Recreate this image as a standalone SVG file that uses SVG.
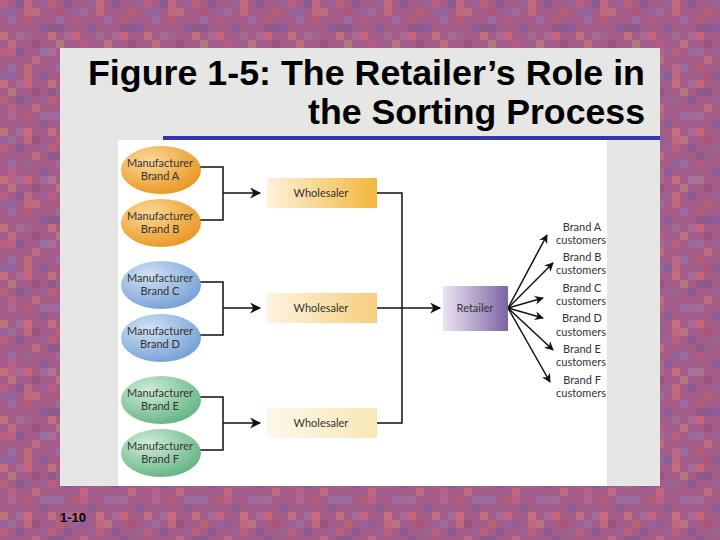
<svg xmlns="http://www.w3.org/2000/svg" width="720" height="540" viewBox="0 0 720 540">
<defs>
<style>
.lbl{font-family:Lato,"Open Sans","Liberation Sans",sans-serif;font-size:11px;fill:#333;text-anchor:middle}
.cust{font-family:Lato,"Open Sans","Liberation Sans",sans-serif;font-size:11px;fill:#333;text-anchor:middle}
.ttl{font-family:"Liberation Sans",Arial,sans-serif;font-size:35px;font-weight:bold;fill:#000}
.ln{fill:none;stroke:#111;stroke-width:1.5}
</style>
<pattern id="mosaic" width="48" height="48" patternUnits="userSpaceOnUse">
<rect width="48" height="48" fill="#a45c88"/>
<rect x="0" y="0" width="8" height="8" fill="#b8607e"/>
<rect x="16" y="0" width="8" height="8" fill="#8e5a92"/>
<rect x="32" y="8" width="8" height="8" fill="#c06a82"/>
<rect x="8" y="16" width="8" height="8" fill="#9a6aa0"/>
<rect x="24" y="16" width="8" height="8" fill="#b25a7a"/>
<rect x="40" y="24" width="8" height="8" fill="#8c5c96"/>
<rect x="0" y="32" width="8" height="8" fill="#c2707e"/>
<rect x="16" y="32" width="8" height="8" fill="#a86a9a"/>
<rect x="32" y="40" width="8" height="8" fill="#9c5282"/>
<rect x="8" y="40" width="8" height="8" fill="#b6747e"/>
<rect x="40" y="0" width="8" height="8" fill="#9a6292"/>
<rect x="24" y="32" width="8" height="8" fill="#c66478"/>
</pattern>
<pattern id="mosaic2" width="72" height="64" patternUnits="userSpaceOnUse">
<rect x="0" y="8" width="16" height="8" fill="#8a6aa6"/>
<rect x="24" y="0" width="8" height="16" fill="#d0707a"/>
<rect x="48" y="24" width="16" height="8" fill="#7e5c90"/>
<rect x="8" y="40" width="8" height="16" fill="#c46486"/>
<rect x="40" y="48" width="16" height="8" fill="#9c78a8"/>
<rect x="56" y="8" width="8" height="8" fill="#b45470"/>
<rect x="24" y="32" width="8" height="8" fill="#8868a0"/>
</pattern>
<radialGradient id="gOr" cx="0.35" cy="0.3" r="0.8">
<stop offset="0" stop-color="#fbd898"/><stop offset="1" stop-color="#e8921a"/>
</radialGradient>
<radialGradient id="gBl" cx="0.35" cy="0.3" r="0.8">
<stop offset="0" stop-color="#d2e2f4"/><stop offset="1" stop-color="#6e9cd2"/>
</radialGradient>
<radialGradient id="gGr" cx="0.35" cy="0.3" r="0.8">
<stop offset="0" stop-color="#d0ecd6"/><stop offset="1" stop-color="#5cb07e"/>
</radialGradient>
<linearGradient id="gW1" x1="0" x2="1" y1="0" y2="0">
<stop offset="0" stop-color="#fdf2dc"/><stop offset="1" stop-color="#f4b63c"/>
</linearGradient>
<linearGradient id="gW2" x1="0" x2="1" y1="0" y2="0">
<stop offset="0" stop-color="#fdf4e2"/><stop offset="1" stop-color="#f6ce7c"/>
</linearGradient>
<linearGradient id="gW3" x1="0" x2="1" y1="0" y2="0">
<stop offset="0" stop-color="#fdf8ea"/><stop offset="1" stop-color="#f8e6b4"/>
</linearGradient>
<linearGradient id="gRt" x1="0" x2="1" y1="0" y2="0">
<stop offset="0" stop-color="#ebe4f2"/><stop offset="1" stop-color="#7c64a6"/>
</linearGradient>
<marker id="arr" viewBox="0 0 10 10" refX="9" refY="5" markerWidth="9" markerHeight="9" markerUnits="userSpaceOnUse" orient="auto">
<path d="M0,0 L10,5 L0,10 L3,5 Z" fill="#111"/>
</marker>
<marker id="arr2" viewBox="0 0 10 10" refX="9" refY="5" markerWidth="13" markerHeight="11" markerUnits="userSpaceOnUse" orient="auto">
<path d="M0,0 L10,5 L0,10 L3,5 Z" fill="#111"/>
</marker>
</defs>

<rect width="720" height="540" fill="url(#mosaic)"/>
<rect width="720" height="540" fill="url(#mosaic2)" opacity="0.6"/>
<rect x="60" y="48" width="600" height="438" fill="#e6e6e4"/>
<rect x="118" y="140" width="489" height="346" fill="#ffffff"/>

<g id="title">
<text class="ttl" x="88" y="85" textLength="557" lengthAdjust="spacingAndGlyphs">Figure 1-5: The Retailer’s Role in</text>
<text class="ttl" x="308" y="124" textLength="337" lengthAdjust="spacingAndGlyphs">the Sorting Process</text>
<rect x="163" y="136" width="497" height="4" fill="#3434b4"/>
</g>

<g id="connectors">
<path class="ln" d="M200,167 H223 V220 H200"/>
<path class="ln" d="M223,193 H260" marker-end="url(#arr2)"/>
<path class="ln" d="M200,282 H223 V335 H200"/>
<path class="ln" d="M223,308 H260" marker-end="url(#arr2)"/>
<path class="ln" d="M200,397 H223 V450 H200"/>
<path class="ln" d="M223,423 H260" marker-end="url(#arr2)"/>
<path class="ln" d="M377,193 H402 V423 H377"/>
<path class="ln" d="M377,308 H440" marker-end="url(#arr2)"/>
<path class="ln" d="M508,308 L547,235" marker-end="url(#arr)"/>
<path class="ln" d="M508,308 L553,263" marker-end="url(#arr)"/>
<path class="ln" d="M508,308 L543,298" marker-end="url(#arr)"/>
<path class="ln" d="M508,308 L543,318" marker-end="url(#arr)"/>
<path class="ln" d="M508,308 L553,350" marker-end="url(#arr)"/>
<path class="ln" d="M508,308 L550,382" marker-end="url(#arr)"/>
</g>

<g id="mfrA"><ellipse cx="161" cy="170" rx="40" ry="24" fill="url(#gOr)"/><text class="lbl" x="160" y="167">Manufacturer</text><text class="lbl" x="160" y="180">Brand A</text></g>
<g id="mfrB"><ellipse cx="161" cy="223" rx="40" ry="24" fill="url(#gOr)"/><text class="lbl" x="160" y="220">Manufacturer</text><text class="lbl" x="160" y="233">Brand B</text></g>
<g id="mfrC"><ellipse cx="161" cy="285" rx="40" ry="24" fill="url(#gBl)"/><text class="lbl" x="160" y="282">Manufacturer</text><text class="lbl" x="160" y="295">Brand C</text></g>
<g id="mfrD"><ellipse cx="161" cy="338" rx="40" ry="24" fill="url(#gBl)"/><text class="lbl" x="160" y="335">Manufacturer</text><text class="lbl" x="160" y="348">Brand D</text></g>
<g id="mfrE"><ellipse cx="161" cy="400" rx="40" ry="24" fill="url(#gGr)"/><text class="lbl" x="160" y="397">Manufacturer</text><text class="lbl" x="160" y="410">Brand E</text></g>
<g id="mfrF"><ellipse cx="161" cy="453" rx="40" ry="24" fill="url(#gGr)"/><text class="lbl" x="160" y="450">Manufacturer</text><text class="lbl" x="160" y="463">Brand F</text></g>

<g id="wholesaler1"><rect x="267" y="178" width="110" height="30" fill="url(#gW1)"/><text class="lbl" x="321" y="197">Wholesaler</text></g>
<g id="wholesaler2"><rect x="267" y="293" width="110" height="30" fill="url(#gW2)"/><text class="lbl" x="321" y="312">Wholesaler</text></g>
<g id="wholesaler3"><rect x="267" y="408" width="110" height="30" fill="url(#gW3)"/><text class="lbl" x="321" y="427">Wholesaler</text></g>

<g id="retailer"><rect x="443" y="286" width="65" height="45" fill="url(#gRt)"/><text class="lbl" x="475" y="312">Retailer</text></g>

<g id="custA"><text class="cust" x="582" y="231">Brand A</text><text class="cust" x="581" y="244">customers</text></g>
<g id="custB"><text class="cust" x="582" y="261">Brand B</text><text class="cust" x="581" y="274">customers</text></g>
<g id="custC"><text class="cust" x="582" y="292">Brand C</text><text class="cust" x="581" y="305">customers</text></g>
<g id="custD"><text class="cust" x="582" y="322">Brand D</text><text class="cust" x="581" y="336">customers</text></g>
<g id="custE"><text class="cust" x="582" y="353">Brand E</text><text class="cust" x="581" y="366">customers</text></g>
<g id="custF"><text class="cust" x="582" y="384">Brand F</text><text class="cust" x="581" y="397">customers</text></g>

<text x="60" y="522" style="font-family:'Liberation Sans',Arial,sans-serif;font-size:13px;font-weight:bold;fill:#000">1-10</text>
</svg>
